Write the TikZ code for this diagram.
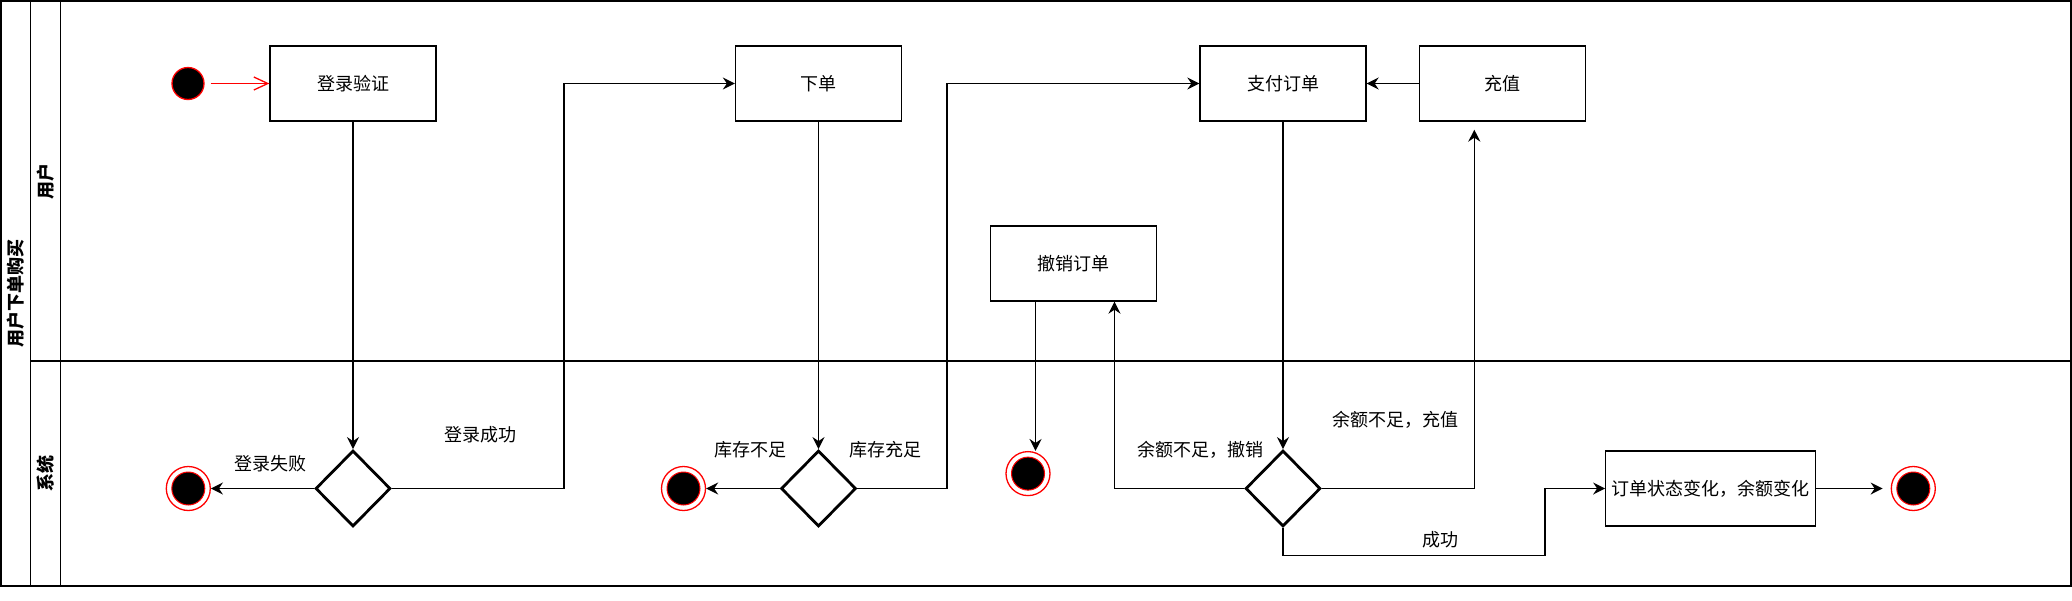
\documentclass[tikz,border=0pt]{standalone}
\usepackage{fontspec}
\setmainfont{Noto Sans CJK SC}
\usetikzlibrary{arrows.meta,positioning,calc,shapes.geometric}

\begin{document}
\begin{tikzpicture}[x=1pt,y=-1pt,font=\fontsize{18}{22}\selectfont,
		box/.style={rectangle,draw,line width=1.3pt,minimum width=166pt,minimum height=75pt,inner sep=2pt},
		dec/.style={diamond,draw,line width=2.8pt,minimum width=75pt,minimum height=76pt,inner sep=0pt},
		endo/.style={circle,draw=red,line width=1.3pt,fill=white,minimum size=44pt,inner sep=0pt},
		endi/.style={circle,draw=red,line width=1pt,fill=black,minimum size=33pt,inner sep=0pt},
		arr/.style={line width=1.5pt,-{Stealth[length=12pt,width=12pt,inset=4pt]}},
		lane/.style={rotate=90,inner sep=0pt,font=\bfseries\fontsize{18}{22}\selectfont}]
		\useasboundingbox (0,0) rectangle (2072,600);
		\draw[line width=1.6pt] (0.8,0.8) rectangle (2071,585.7);
		\draw[line width=1.4pt] (30.3,0.8) -- (30.3,585.7) (60.7,0.8) -- (60.7,585.7) (30.3,361) -- (2071,361);
		\node at (15.5,293) [lane] (T) {用户下单购买};
		\node at (45.5,181) [lane] (LU) {用户};
		\node at (45.5,473.5) [lane] (LS) {系统};
		\node at (188,83.5) [circle, fill=black, draw=red, line width=1.3pt, minimum size=32pt, inner sep=0pt] (S) {};
		\node at (353,83.5) [box] (L) {登录验证};
		\node at (818.5,83.5) [box] (O) {下单};
		\node at (1283,83.5) [box] (P) {支付订单};
		\node[box, right=52pt of P] (R) {充值};
		\node at (1073.3,263.5) [box] (C) {撤销订单};
		\node at (L |- 0,488.5) [dec] (D1) {};
		\node at (O |- 0,488.5) [dec] (D2) {};
		\node at (P |- 0,488.5) [dec] (D3) {};
		\node at (1710.8,488.5) [box, minimum width=210pt] (U) {订单状态变化，余额变化};
		\node at (188.3,488.5) [endo] (E1) {};
		\node at (E1) [endi] (E1i) {};
		\node at (683.5,488.5) [endo] (E2) {};
		\node at (E2) [endi] (E2i) {};
		\node at (1028,473.6) [endo] (E3) {};
		\node at (E3) [endi] (E3i) {};
		\node at (1913.3,488.5) [endo] (E4) {};
		\node at (E4) [endi] (E4i) {};
		\coordinate (Rb) at ($(R.south)+(-28,8)$);
		\draw[red, line width=1.3pt, -{Straight Barb[length=14pt,width=13pt]}, shorten <=6pt] (S) -- (L);
		\draw[arr] (L) -- (D1);
		\draw[arr] (D1) -- (E1);
		\draw[arr] (D1.east) -- ++(172,0) |- (O.west);
		\draw[arr] (O) -- (D2);
		\draw[arr] (D2) -- (E2);
		\draw[arr] (D2.east) -- ++(89.5,0) |- (P.west);
		\draw[arr] (R) -- (P);
		\draw[arr] (P) -- (D3);
		\draw[arr] (D3.east) -| (Rb);
		\draw[arr] (D3.west) -| ([xshift=41.2]C.south);
		\draw[arr] ([xshift=-37.8]C.south) -- ([xshift=-37.8]C.south |- E3.north);
		\draw[arr] (D3.south) |- ($(U.west)+(-60,67)$) |- (U.west);
		\draw[arr, shorten >=8pt] (U) -- (E4);
		\node at (270,464) (l1) {登录失败};
		\node at (480,434.5) (l2) {登录成功};
		\node at (750.4,450) (l3) {库存不足};
		\node at (885.3,450) (l4) {库存充足};
		\node at (1200,450) (l5) {余额不足，撤销};
		\node at (1395,420) (l6) {余额不足，充值};
		\node at (1440.7,540) (l7) {成功};
\end{tikzpicture}
\end{document}
